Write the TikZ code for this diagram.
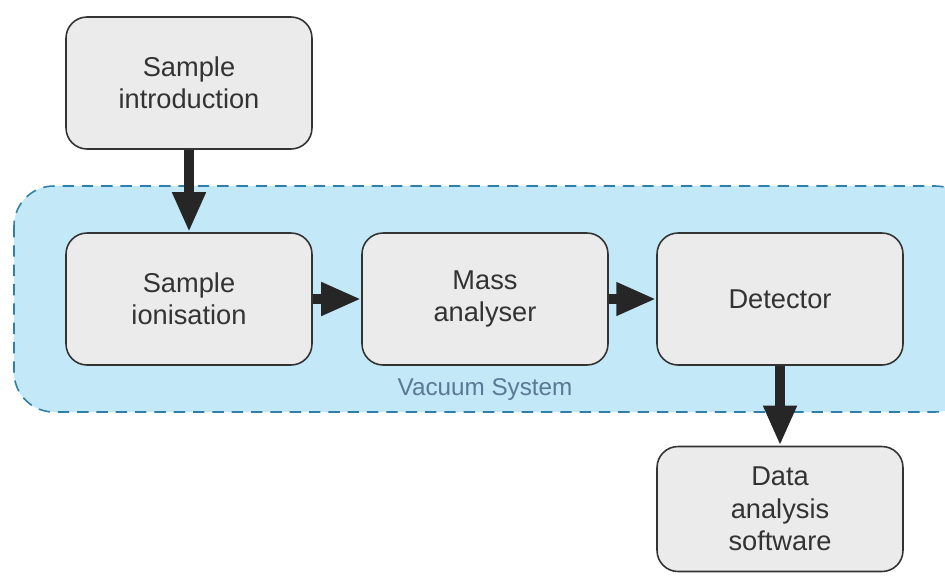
\documentclass[tikz,border=0pt]{standalone}
\usepackage{fontspec}
\setmainfont{Liberation Sans}
\usetikzlibrary{arrows.meta}
\definecolor{boxfill}{HTML}{EBEBEB}
\definecolor{boxline}{HTML}{333333}
\definecolor{vacfill}{HTML}{C3E8F7}
\definecolor{vacline}{HTML}{2F7FA9}
\definecolor{vactext}{HTML}{5B7894}

\begin{document}
\begin{tikzpicture}[x=0.02cm, y=-0.02cm, every node/.style={font=\fontsize{15.5}{18.5}\selectfont, text=boxline},
	blk/.style={draw=boxline, line width=0.9pt, fill=boxfill, rounded corners=0.42cm, minimum width=4.92cm, minimum height=2.64cm, align=center, inner sep=0pt},
	flow/.style={line width=0.21cm, -{Triangle[length=0.8cm, width=0.62cm]}, black!85}]
	\useasboundingbox (0,0) rectangle (945,575);
	\clip (0,0) rectangle (945,575);
	% vacuum area
	\draw[fill=vacfill, draw=vacline, line width=0.9pt, dash pattern=on 6.5pt off 4.5pt, rounded corners=0.8cm] (14,186) rectangle (975,412);
	\node[font=\fontsize{13.8}{16}\selectfont, text=vactext] (vac) at (485,390) {Vacuum System};
	% stages
	\node[blk] (intro) at (189,83) {Sample\\introduction};
	\node[blk] (ion) at (189,299) {Sample\\ionisation};
	\node[blk] (mass) at (485,299) {Mass\\analyser};
	\node[blk] (det) at (780,299) {Detector};
	\node[blk, minimum height=2.5cm] (data) at (780,509) {Data\\analysis\\software};
	% arrows
	\draw[flow] (intro) -- (ion);
	\draw[flow] (ion) -- (mass);
	\draw[flow] (mass) -- (det);
	\draw[flow] (det) -- (data);
\end{tikzpicture}
\end{document}
